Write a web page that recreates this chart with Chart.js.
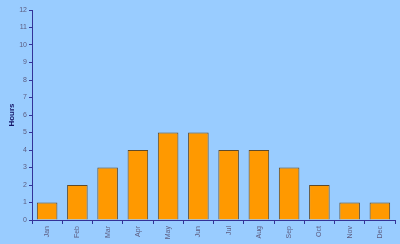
<!DOCTYPE html>
<html>
<head>
<meta charset="utf-8">
<script src="https://cdn.jsdelivr.net/npm/chart.js@4/dist/chart.umd.min.js"></script>
<style>
  html, body { margin: 0; padding: 0; background: #99ccff; }
  #wrap { width: 400px; height: 244px; }
</style>
</head>
<body>
<div id="wrap"><canvas id="chart"></canvas></div>
<script>
const months = ['Jan', 'Feb', 'Mar', 'Apr', 'May', 'Jun', 'Jul', 'Aug', 'Sep', 'Oct', 'Nov', 'Dec'];
const hours = [1, 2, 3, 4, 5, 5, 4, 4, 3, 2, 1, 1];
const yMax = 12;

const axisColor = '#333399';
const tickColor = '#5c5c80';

new Chart(document.getElementById('chart'), {
    type: 'bar',
    data: {
        labels: months,
        datasets: [{
            data: hours,
            backgroundColor: '#ff9900',
            borderColor: '#5e4a2a',
            borderWidth: 1,
            barPercentage: 0.68,
            categoryPercentage: 1
        }]
    },
    options: {
        responsive: true,
        maintainAspectRatio: false,
        animation: false,
        layout: { padding: { top: 10, right: 5, left: 0, bottom: 0 } },
        plugins: { legend: { display: false }, tooltip: { enabled: false } },
        scales: {
            x: {
                grid: { drawOnChartArea: false, drawTicks: true, tickLength: 4, color: axisColor, offset: true },
                border: { color: axisColor },
                ticks: {
                    color: tickColor,
                    font: { family: 'Arial, Liberation Sans', size: 7 },
                    maxRotation: 90,
                    minRotation: 90,
                    padding: 2
                },
                afterFit: (axis) => { axis.height = 24; }
            },
            y: {
                min: 0,
                max: yMax,
                grid: { drawOnChartArea: false, drawTicks: true, tickLength: 3, color: axisColor },
                border: { color: axisColor },
                ticks: {
                    stepSize: 1,
                    color: tickColor,
                    font: { family: 'Arial, Liberation Sans', size: 7 },
                    padding: 2
                },
                title: {
                    display: true,
                    text: 'Hours',
                    color: '#141466',
                    font: { family: 'Arial, Liberation Sans', size: 8, weight: 'bold' },
                    padding: { top: 7, bottom: 0 }
                },
                afterFit: (axis) => { axis.width = 32; }
            }
        }
    }
});
</script>
</body>
</html>
